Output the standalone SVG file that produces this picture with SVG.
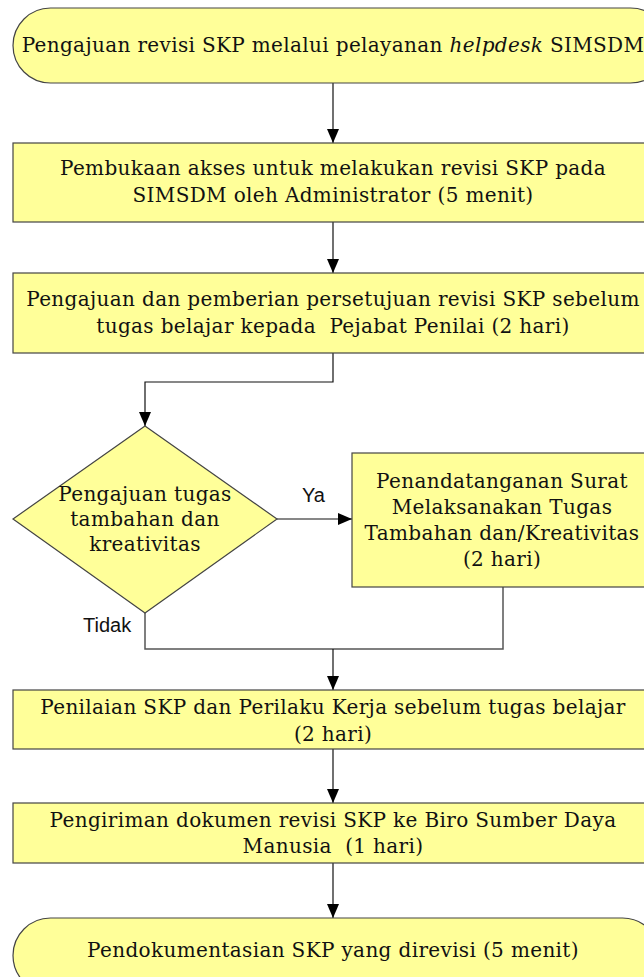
<svg xmlns="http://www.w3.org/2000/svg" width="644" height="977" viewBox="0 0 644 977">
<style>
.shape{fill:#FFFF99;stroke:#444;stroke-width:1.2}
.t{font-family:"DejaVu Serif","Liberation Serif",serif;font-size:20px;letter-spacing:0.35px;fill:#111;text-anchor:middle}
.lbl{font-family:"Liberation Sans",Arial,sans-serif;font-size:20px;fill:#111}
.c{fill:none;stroke:#111;stroke-width:1.2}
.cg{fill:none;stroke:#555;stroke-width:1.5}
</style>
<defs>
<marker id="ah" markerUnits="userSpaceOnUse" markerWidth="14" markerHeight="12" refX="14" refY="6" orient="auto" viewBox="0 0 14 12">
<path d="M0,0 L14,6 L0,12 z" fill="#000"/>
</marker>
</defs>
<g id="connectors">
<line class="c" x1="333" y1="83" x2="333" y2="143" marker-end="url(#ah)"/>
<line class="c" x1="333" y1="222" x2="333" y2="273" marker-end="url(#ah)"/>
<polyline class="c" points="333,353 333,382 145,382 145,426" marker-end="url(#ah)"/>
<line class="c" x1="277" y1="519" x2="352" y2="519" marker-end="url(#ah)"/>
<polyline class="cg" points="145,613 145,649 503,649 503,587"/>
<line class="c" x1="333" y1="649" x2="333" y2="690" marker-end="url(#ah)"/>
<line class="c" x1="333" y1="749" x2="333" y2="803" marker-end="url(#ah)"/>
<line class="c" x1="333" y1="863" x2="333" y2="918" marker-end="url(#ah)"/>
<text class="lbl" x="302" y="502">Ya</text>
<text class="lbl" x="83" y="632">Tidak</text>
</g>
<g id="start">
<rect class="shape" x="13" y="8" width="655" height="75" rx="37.5" ry="37.5"/>
<text class="t" x="333" y="52">Pengajuan revisi SKP melalui pelayanan <tspan font-style="italic">helpdesk</tspan> SIMSDM</text>
</g>
<g id="akses">
<rect class="shape" x="13" y="143" width="641" height="79"/>
<text class="t" x="333" y="175">Pembukaan akses untuk melakukan revisi SKP pada</text>
<text class="t" x="333" y="202">SIMSDM oleh Administrator (5 menit)</text>
</g>
<g id="persetujuan">
<rect class="shape" x="13" y="273" width="641" height="80"/>
<text class="t" x="333" y="306">Pengajuan dan pemberian persetujuan revisi SKP sebelum</text>
<text class="t" x="333" y="333" xml:space="preserve">tugas belajar kepada  Pejabat Penilai (2 hari)</text>
</g>
<g id="keputusan">
<polygon class="shape" points="145,426 277,519 145,613 13,519"/>
<text class="t" x="145" y="501">Pengajuan tugas</text>
<text class="t" x="145" y="526">tambahan dan</text>
<text class="t" x="145" y="551">kreativitas</text>
</g>
<g id="surat">
<rect class="shape" x="352" y="453" width="300" height="134"/>
<text class="t" x="502" y="488">Penandatanganan Surat</text>
<text class="t" x="502" y="514">Melaksanakan Tugas</text>
<text class="t" x="502" y="540">Tambahan dan/Kreativitas</text>
<text class="t" x="502" y="566">(2 hari)</text>
</g>
<g id="penilaian">
<rect class="shape" x="13" y="690" width="641" height="59"/>
<text class="t" x="333" y="714">Penilaian SKP dan Perilaku Kerja sebelum tugas belajar</text>
<text class="t" x="333" y="741">(2 hari)</text>
</g>
<g id="pengiriman">
<rect class="shape" x="13" y="803" width="641" height="60"/>
<text class="t" x="333" y="827">Pengiriman dokumen revisi SKP ke Biro Sumber Daya</text>
<text class="t" x="333" y="853" xml:space="preserve">Manusia  (1 hari)</text>
</g>
<g id="selesai">
<rect class="shape" x="13" y="918" width="647" height="75" rx="37.5" ry="37.5"/>
<text class="t" x="333" y="957">Pendokumentasian SKP yang direvisi (5 menit)</text>
</g>
</svg>
